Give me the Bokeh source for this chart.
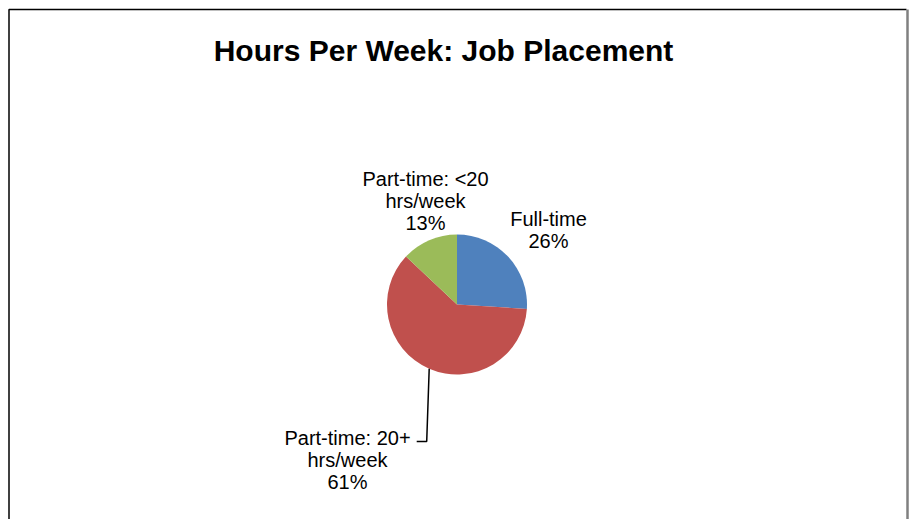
import math
from bokeh.plotting import figure
from bokeh.models import Range1d, ColumnDataSource
from bokeh.core.properties import value
from bokeh.embed import file_html
from bokeh.resources import INLINE

# ---- data ----
categories = ["Full-time", "Part-time: 20+ hrs/week", "Part-time: <20 hrs/week"]
label_lines = [["Full-time"], ["Part-time: 20+", "hrs/week"], ["Part-time: <20", "hrs/week"]]
percents = [26, 61, 13]
colors = ["#4F81BD", "#C0504D", "#9BBB59"]
title_text = "Hours Per Week: Job Placement"

# ---- layout ----
W, H = 909, 519
CX, CY, R = 456.5, -304.0, 70.0          # data coords (y = -page y)
label_pos = [(548, -229.5), (347, -459.5), (425, -200.5)]

p = figure(width=W, height=H, output_backend="svg", toolbar_location=None,
           x_range=Range1d(0, W), y_range=Range1d(-H, 0),
           min_border=0, match_aspect=False)
p.axis.visible = False
p.grid.visible = False
p.outline_line_color = None
p.background_fill_color = "white"
p.border_fill_color = "white"

# chart-area border
p.line(x=[8.5, 8.5, 906], y=[-H, -9, -9], line_color="black", line_width=1.5)
p.line(x=[907, 907], y=[-9, -H], line_color="#808080", line_width=2.5)

total = float(sum(percents))
starts, ends, mids = [], [], []
cum = 0.0
for v in percents:
    a0 = math.pi / 2 - 2 * math.pi * cum / total
    cum += v
    a1 = math.pi / 2 - 2 * math.pi * cum / total
    starts.append(a0)
    ends.append(a1)
    mids.append((a0 + a1) / 2)

src = ColumnDataSource(dict(start=starts, end=ends, color=colors))
p.wedge(x=CX, y=CY, radius=R, start_angle="start", end_angle="end",
        direction="clock", fill_color="color", line_color=None, source=src)

# leader line for the big slice
i_big = 1
mx = CX + R * math.cos(mids[i_big])
my = CY + R * math.sin(mids[i_big])
p.line(x=[mx, mx - 2.5, mx - 12.5], y=[my, -441, -441], line_color="black", line_width=1.5)

texts = []
for lines, pct in zip(label_lines, percents):
    texts.append("\n".join(lines + ["%d%%" % pct]))
p.text(x=[lp[0] for lp in label_pos], y=[lp[1] for lp in label_pos], text=texts,
       text_font=value("Liberation Sans"), text_font_size="20px",
       text_align="center", text_baseline="middle", text_line_height=0.99,
       text_color="black")

p.text(x=[443], y=[-50], text=[title_text], text_font=value("Liberation Sans"),
       text_font_size="30px", text_font_style="bold", text_align="center",
       text_baseline="middle", text_color="black")

open("out.html", "w").write(file_html(p, INLINE))
